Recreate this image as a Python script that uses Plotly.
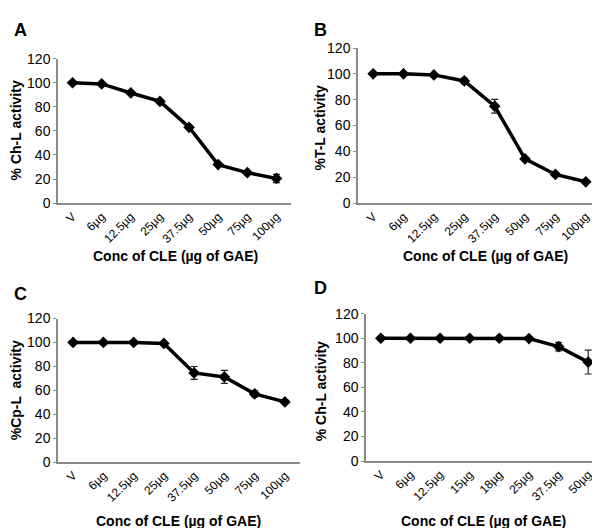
import plotly.graph_objects as go

# concentrations (x categories)
conc_abc = ["V", "6µg", "12.5µg", "25µg", "37.5µg", "50µg", "75µg", "100µg"]
conc_d = ["V", "6µg", "12.5µg", "15µg", "18µg", "25µg", "37.5µg", "50µg"]

# % activity values
ch_l_a = [100, 99, 91.5, 84.5, 63, 32, 25.3, 20.5]
ch_l_a_err = [0.5, 0.8, 1.0, 1.0, 1.0, 1.0, 1.5, 3.4]

t_l = [100, 100, 99.2, 94.5, 75, 34.2, 22.2, 16.5]
t_l_err = [0.5, 0.5, 1.0, 2.2, 5.3, 1.0, 1.0, 1.0]

cp_l = [100, 100, 100, 99.2, 74.5, 71.2, 57, 50.3]
cp_l_err = [0.5, 0.5, 0.5, 0.5, 5.4, 5.4, 2.5, 1.5]

ch_l_d = [100, 100, 100, 100, 100, 99.7, 93.2, 80.6]
ch_l_d_err = [0.5, 0.5, 0.5, 0.5, 0.5, 0.5, 3.4, 9.7]

panels = [
    # letter, cats, vals, err, ytitle, xdomain, ydomain
    ("A", conc_abc, ch_l_a, ch_l_a_err, "% Ch-L activity", [0.0833, 0.4717], [0.6345, 0.9167]),
    ("B", conc_abc, t_l, t_l_err, "%T-L activity", [0.5833, 0.9883], [0.6345, 0.9375]),
    ("C", conc_abc, cp_l, cp_l_err, "%Cp-L  activity", [0.0833, 0.4867], [0.1288, 0.4091]),
    ("D", conc_d, ch_l_d, ch_l_d_err, "% Ch-L activity", [0.5967, 0.9917], [0.1307, 0.4186]),
]

fnt = "Liberation Sans, Arial, sans-serif"
fig = go.Figure()
layout = {}
annots = []

# label positions in pixels: letter(x,y), ytitle(x,y), xtitle(x,y)
pos = {
    "A": ((12, 14), (8, 118), (167, 248)),
    "B": ((312, 14), (312, 115), (477, 247)),
    "C": ((12, 287), (8, 386), (170, 521)),
    "D": ((313, 280), (313, 387), (475, 521)),
}

W, H = 600, 528
for i, (letter, cats, vals, err, ytitle, xd, yd) in enumerate(panels):
    n = "" if i == 0 else str(i + 1)
    fig.add_trace(go.Scatter(
        x=cats, y=vals, mode="lines+markers",
        line=dict(color="black", width=3.5),
        marker=dict(symbol="diamond", size=9, color="black"),
        error_y=dict(type="data", array=err, color="#222", thickness=1.2, width=3.5),
        xaxis="x" + n, yaxis="y" + n, showlegend=False,
    ))
    layout["xaxis" + n] = dict(
        domain=xd, anchor="y" + n, type="category",
        range=[-0.5, 7.5], showline=True, linecolor="#8a8a8a", linewidth=1.5,
        showgrid=False, zeroline=False, ticks="", tickangle=-45,
        tickfont=dict(family=fnt, size=12, color="black"), fixedrange=True,
    )
    layout["yaxis" + n] = dict(
        domain=yd, anchor="x" + n, range=[0, 120], dtick=20,
        showline=True, linecolor="#8a8a8a", linewidth=1.5,
        showgrid=False, zeroline=False, ticks="outside", ticklen=3,
        tickcolor="#8a8a8a", tickfont=dict(family=fnt, size=14, color="black"),
    )
    (lx, ly), (yx, yy), (xx, xy) = pos[letter]
    annots.append(dict(text="<b>" + letter + "</b>", x=lx / W, y=1 - ly / H,
                       xref="paper", yref="paper", showarrow=False,
                       xanchor="center", yanchor="middle",
                       font=dict(family=fnt, size=18, color="black")))
    annots.append(dict(text="<b>" + ytitle + "</b>", x=yx / W, y=1 - yy / H,
                       xref="paper", yref="paper", showarrow=False, textangle=-90,
                       xanchor="center", yanchor="middle",
                       font=dict(family=fnt, size=14, color="black")))
    annots.append(dict(text="<b>Conc of CLE (µg of GAE)</b>", x=xx / W, y=1 - xy / H,
                       xref="paper", yref="paper", showarrow=False,
                       xanchor="center", yanchor="middle",
                       font=dict(family=fnt, size=14, color="black")))

fig.update_layout(
    width=W, height=H, margin=dict(l=0, r=0, t=0, b=0),
    paper_bgcolor="white", plot_bgcolor="white",
    annotations=annots, **layout,
)
fig.write_html("out.html")
